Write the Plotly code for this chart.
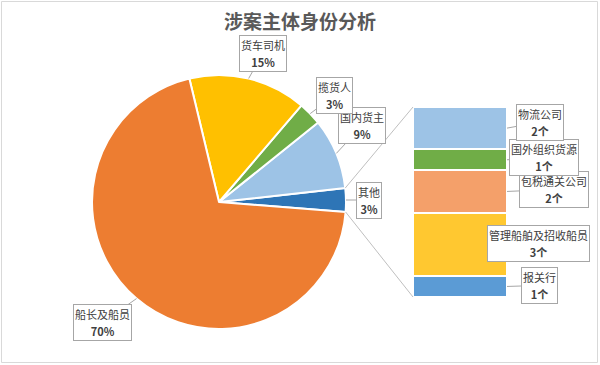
import math
import plotly.graph_objects as go

W, H = 600, 365

# ---- data ----
pie_labels = ["其他", "国内货主", "揽货人", "货车司机", "船长及船员"]
pie_values = [3, 9, 3, 15, 70]
pie_colors = ["#2E75B6", "#9DC3E6", "#70AD47", "#FFC000", "#ED7D31"]

bar_labels = ["报关行", "管理船舶及招收船员", "包税通关公司", "国外组织货源", "物流公司"]
bar_values = [1, 3, 2, 1, 2]
bar_colors = ["#5B9BD5", "#FFC830", "#F4A06A", "#70AD47", "#9DC3E6"]

title_text = "涉案主体身份分析"

# ---- layout geometry (pixels) ----
cx, cy, r = 219, 202, 127
start_deg = -4.5          # angle where first slice ("其他") begins, ccw from 3 o'clock
bar_left, bar_right, bar_top, bar_bottom = 413, 507, 107, 297

def px(x):
    return x / W

def py(y):
    return 1 - y / H

tot = sum(pie_values)
first_span = pie_values[0] / tot * 360

fig = go.Figure()

fig.add_trace(go.Pie(
    labels=pie_labels, values=pie_values, sort=False,
    direction="counterclockwise", rotation=90 - (start_deg + first_span),
    marker=dict(colors=pie_colors, line=dict(color="white", width=2)),
    textinfo="none", hoverinfo="label+percent", showlegend=False,
    domain=dict(x=[px(cx - r), px(cx + r)], y=[py(cy + r), py(cy - r)]),
))

total_bar = sum(bar_values)
for lab, val, col in zip(bar_labels, bar_values, bar_colors):
    fig.add_trace(go.Bar(
        x=[0], y=[val], name=lab, width=1,
        marker=dict(color=col, line=dict(color="white", width=2)),
        showlegend=False, hoverinfo="name+y",
        xaxis="x", yaxis="y",
    ))

annotations = []
label_font = dict(family="Noto Sans CJK SC, sans-serif", size=13, color="#404040")

def fmt(name, value_text):
    s = 'font-size:11px'
    return f'<span style="{s}">{name}</span><br><span style="{s}"><b>{value_text}</b></span>'

def callout(text, x, y, ax, ay, xref="paper", yref="paper"):
    annotations.append(dict(
        text=text, x=x, y=y, xref=xref, yref=yref, ax=ax, ay=ay,
        axref="pixel", ayref="pixel",
        showarrow=True, arrowhead=0, arrowwidth=1, arrowcolor="#A6A6A6",
        bordercolor="#A6A6A6", borderwidth=1, borderpad=1, bgcolor="white",
        font=label_font, align="center", standoff=0,
    ))

# pie labels: target at slice mid-angle on rim
offsets = {"其他": (23, 0), "国内货主": (26, -28), "揽货人": (24, -18),
           "货车司机": (14, -25), "船长及船员": (-34, 24)}
acc = start_deg
for lab, val in zip(pie_labels, pie_values):
    span = val / tot * 360
    mid = math.radians(acc + span / 2)
    acc += span
    tx = cx + r * math.cos(mid)
    ty = cy - r * math.sin(mid)
    ax, ay = offsets[lab]
    callout(fmt(lab, f"{val}%"), px(tx), py(ty), ax, ay)

# bar labels
bar_offsets = {"报关行": (32, -1), "管理船舶及招收船员": (31, -1), "包税通关公司": (47, -2),
               "国外组织货源": (37, -2), "物流公司": (33, -6)}
base = 0
for lab, val in zip(bar_labels, bar_values):
    mid = base + val / 2
    base += val
    ax, ay = bar_offsets[lab]
    callout(fmt(lab, f"{val}个"), 0.5, mid, ax, ay, xref="x", yref="y")

# connector lines from "其他" slice edges to bar corners
a0 = math.radians(start_deg)
a1 = math.radians(start_deg + first_span)
shapes = [
    dict(type="line", xref="paper", yref="paper",
         x0=px(cx + r * math.cos(a1)), y0=py(cy - r * math.sin(a1)),
         x1=px(bar_left), y1=py(bar_top), line=dict(color="#BFBFBF", width=1)),
    dict(type="line", xref="paper", yref="paper",
         x0=px(cx + r * math.cos(a0)), y0=py(cy - r * math.sin(a0)),
         x1=px(bar_left), y1=py(bar_bottom), line=dict(color="#BFBFBF", width=1)),
    dict(type="rect", xref="paper", yref="paper",
         x0=px(1.5), x1=px(597.5), y0=py(1.5), y1=py(362.5),
         line=dict(color="#D9D9D9", width=1), layer="below"),
]

fig.update_layout(
    width=W, height=H,
    margin=dict(l=0, r=0, t=0, b=0),
    paper_bgcolor="white", plot_bgcolor="rgba(0,0,0,0)",
    barmode="stack", bargap=0,
    title=dict(text=f"<b>{title_text}</b>", x=0.5, xanchor="center", y=py(22), yanchor="middle",
               font=dict(family="Noto Sans CJK SC, sans-serif", size=19, color="#595959")),
    xaxis=dict(domain=[px(bar_left), px(bar_right)], range=[-0.5, 0.5], visible=False, fixedrange=True),
    yaxis=dict(domain=[py(bar_bottom), py(bar_top)], range=[0, total_bar], visible=False, fixedrange=True),
    annotations=annotations, shapes=shapes,
)

fig.write_html("out.html", config={"displayModeBar": False},
               post_script="document.body.style.margin='0';document.body.style.overflow='hidden';")
